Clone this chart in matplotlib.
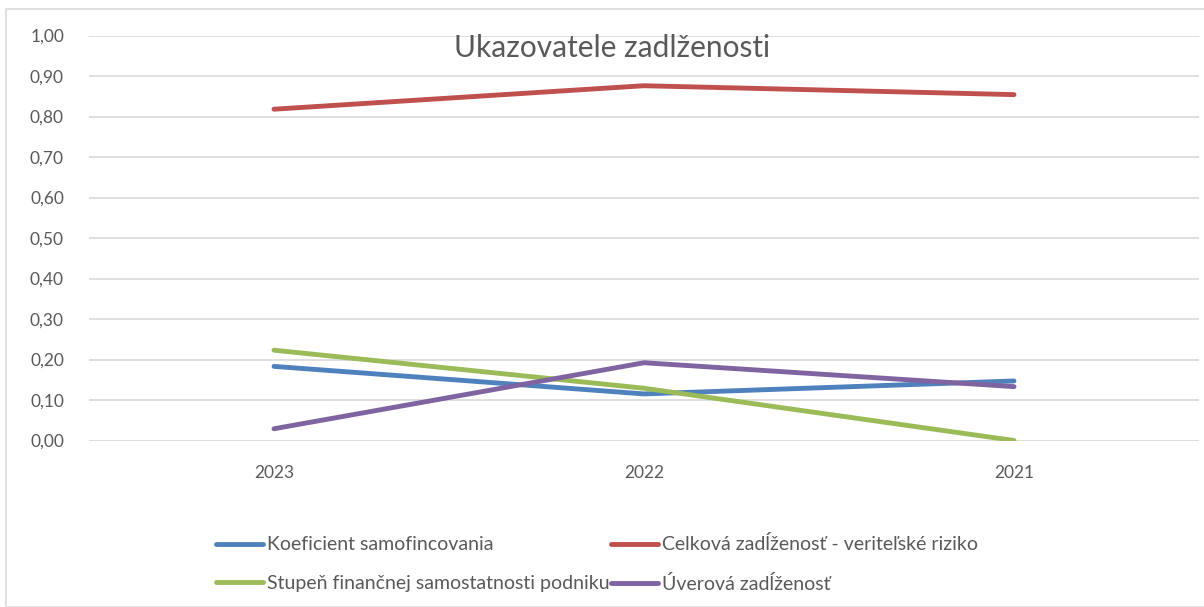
import matplotlib.pyplot as plt
from matplotlib.patches import Rectangle
from matplotlib.ticker import FuncFormatter

# data
years = ['2023', '2022', '2021']
koeficient = [0.183, 0.115, 0.147]
celkova = [0.818, 0.876, 0.854]
stupen = [0.223, 0.129, 0.0]
uverova = [0.029, 0.192, 0.133]

series = [
    ('Koeficient samofincovania', koeficient, '#4F81BD'),
    ('Celková zadĺženosť - veriteľské riziko', celkova, '#C0504D'),
    ('Stupeň finančnej samostatnosti podniku', stupen, '#9BBB59'),
    ('Úverová zadĺženosť', uverova, '#8064A2'),
]

plt.rcParams['font.family'] = ['Lato', 'DejaVu Sans']

W, H = 1204, 607
fig = plt.figure(figsize=(W / 100, H / 100), dpi=100)

# chart border
fig.patches.append(Rectangle((6 / W, 0), 1.2, 1 - 9 / H, transform=fig.transFigure,
                             fill=False, edgecolor='#D9D9D9', linewidth=1.2))

ax = fig.add_axes([89 / W, 1 - 440.5 / H, 1110 / W, 405 / H])
x = range(len(years))
lines = {}
for name, vals, col in series:
    lines[name], = ax.plot(x, vals, color=col, linewidth=3.5, solid_capstyle='round', label=name)

ax.set_xlim(-0.5, 2.5)
ax.set_ylim(0, 1.0)
ax.set_yticks([i / 10 for i in range(11)])
ax.yaxis.set_major_formatter(FuncFormatter(lambda v, p: f'{v:.2f}'.replace('.', ',')))
ax.set_xticks(list(x))
ax.set_xticklabels(years)
ax.tick_params(axis='both', length=0, labelsize=12.5, labelcolor='#595959')
ax.tick_params(axis='y', pad=18)
ax.tick_params(axis='x', pad=18)
ax.grid(axis='y', color='#D9D9D9', linewidth=1.2)
ax.set_axisbelow(True)
for s in ax.spines.values():
    s.set_visible(False)

fig.text(612 / W, 1 - 48 / H, 'Ukazovatele zadlženosti', ha='center', va='center',
         fontsize=21.5, color='#595959')

order = ['Koeficient samofincovania', 'Stupeň finančnej samostatnosti podniku',
         'Celková zadĺženosť - veriteľské riziko', 'Úverová zadĺženosť']
fig.legend([lines[n] for n in order], order, ncol=2, loc='center',
           bbox_to_anchor=(597 / W, 1 - 564 / H), frameon=False, fontsize=14,
           labelcolor='#595959', handlelength=2.4, handletextpad=0.2,
           columnspacing=0.1, labelspacing=1.1)

fig.savefig('out.png', dpi=100)
